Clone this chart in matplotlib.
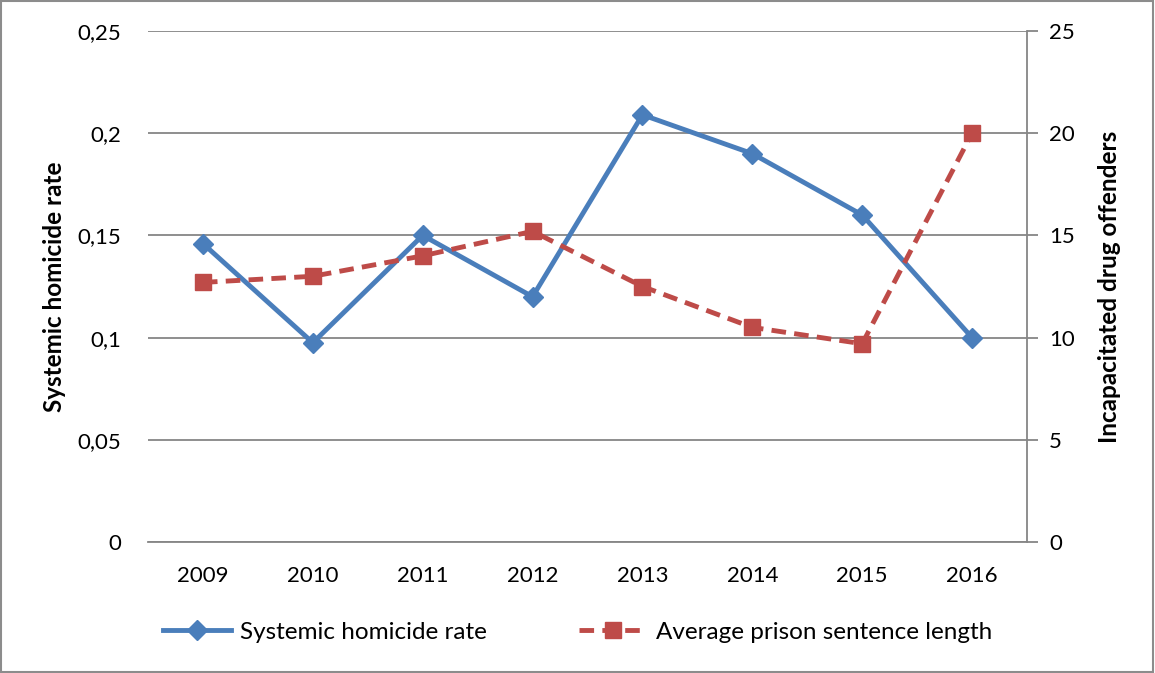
import matplotlib.pyplot as plt
from matplotlib.patches import Rectangle
from matplotlib.ticker import FuncFormatter

years = ['2009', '2010', '2011', '2012', '2013', '2014', '2015', '2016']
homicide_rate = [0.146, 0.0975, 0.150, 0.120, 0.209, 0.190, 0.160, 0.100]
sentence_length = [12.7, 13.0, 14.0, 15.2, 12.5, 10.5, 9.7, 20.0]

plt.rcParams['font.family'] = ['Lato', 'DejaVu Sans']
blue = '#4A7EBB'
red = '#BE4B48'
grid_col = '#868686'
fs = 16

fig = plt.figure(figsize=(11.55, 6.73), dpi=100)
ax = fig.add_axes([148/1155, 131/673, 879/1155, 511/673])
ax2 = ax.twinx()

x = range(len(years))
l1, = ax.plot(x, homicide_rate, color=blue, lw=3.5, marker='D', ms=10,
              label='Systemic homicide rate', zorder=3)
l2, = ax2.plot(x, sentence_length, color=red, lw=3.5, ls=(0, (3, 1.7)), marker='s', ms=11,
               label='Average prison sentence length', zorder=3)

ax.set_xlim(-0.5, 7.5)
ax.set_ylim(0, 0.25)
ax2.set_ylim(0, 25)
ax.set_yticks([0, 0.05, 0.1, 0.15, 0.2, 0.25])
ax2.set_yticks([0, 5, 10, 15, 20, 25])
ax.yaxis.set_major_formatter(FuncFormatter(lambda v, p: ('%g' % v).replace('.', ',')))
ax.set_xticks(list(x))
ax.set_xticklabels(years)

ax.grid(axis='y', color=grid_col, lw=1.3)
ax.set_axisbelow(True)
for a in (ax, ax2):
    for s in ('top', 'left'):
        a.spines[s].set_visible(False)
ax.spines['right'].set_visible(False)
ax2.spines['bottom'].set_visible(False)
ax.spines['bottom'].set_color(grid_col)
ax.spines['bottom'].set_linewidth(1.3)
ax2.spines['right'].set_color(grid_col)
ax2.spines['right'].set_linewidth(1.3)

ax.tick_params(axis='y', length=0, labelsize=fs, pad=19)
ax.tick_params(axis='x', length=0, labelsize=fs, pad=17)
ax2.tick_params(axis='y', length=8, width=1.3, color=grid_col, labelsize=fs, pad=8)

ax.set_ylabel('Systemic homicide rate', fontsize=17.5, fontweight='bold', va='center')
ax.yaxis.set_label_coords(-0.106, 0.5)
ax2.set_ylabel('Incapacitated drug offenders', fontsize=17.5, fontweight='bold', va='center')
ax2.yaxis.set_label_coords(1.094, 0.5)

fig.legend(handles=[l1, l2], loc='center', bbox_to_anchor=(0.5, 1 - 632/673), ncol=2,
           frameon=False, fontsize=17.5, handlelength=2.8, handletextpad=0.35, columnspacing=3.8)

fig.add_artist(Rectangle((0.001, 0.001), 0.997, 0.997, transform=fig.transFigure,
                         fill=False, edgecolor='#8C8C8C', lw=1.5))

fig.savefig('out.png', dpi=100)
